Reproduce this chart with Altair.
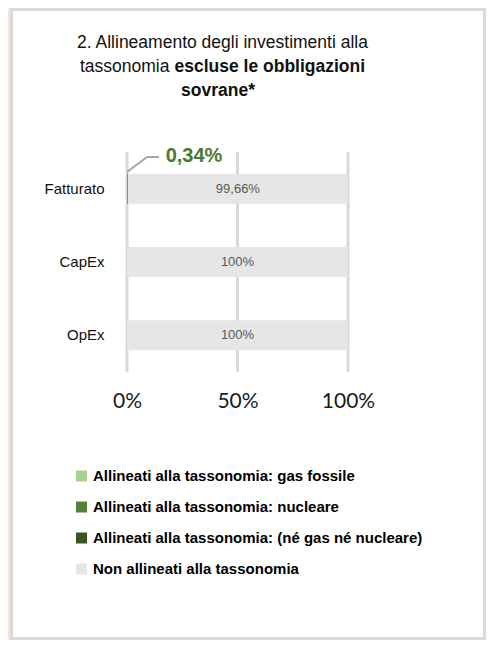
import altair as alt
import pandas as pd

# ---- data ----
categorie = ["Fatturato", "CapEx", "OpEx"]
serie = [
    "Allineati alla tassonomia: gas fossile",
    "Allineati alla tassonomia: nucleare",
    "Allineati alla tassonomia: (né gas né nucleare)",
    "Non allineati alla tassonomia",
]
gas_fossile = [0.0, 0.0, 0.0]
nucleare = [0.0, 0.0, 0.0]
ne_gas_ne_nucleare = [0.34, 0.0, 0.0]
non_allineati = [99.66, 100.0, 100.0]
colori = ["#a9d18e", "#548235", "#385723", "#e7e6e6"]
x_ticks = [0, 50, 100]

titolo_1 = "2. Allineamento degli investimenti alla"
titolo_2a = "tassonomia"
titolo_2b = "escluse le obbligazioni"
titolo_3 = "sovrane*"


def fmt(v):
    if float(v).is_integer():
        return f"{int(v)}%"
    return f"{v:.2f}".replace(".", ",") + "%"


rows = []
for i, c in enumerate(categorie):
    vals = [gas_fossile[i], nucleare[i], ne_gas_ne_nucleare[i], non_allineati[i]]
    for k, s in enumerate(serie):
        rows.append({"categoria": c, "serie": s, "valore": vals[k], "ordine": k})
df = pd.DataFrame(rows)

lab = pd.DataFrame({
    "categoria": categorie,
    "mid": [gas_fossile[i] + nucleare[i] + ne_gas_ne_nucleare[i] + non_allineati[i] / 2 for i in range(3)],
    "testo": [fmt(v) for v in non_allineati],
    "verde": [fmt(v) for v in ne_gas_ne_nucleare],
})
ticks_df = pd.DataFrame({"t": x_ticks})

W, H = 221, 220
PL, PT = 119, 144
TOT_W, TOT_H = 478, 632

FONT = "Liberation Sans, Arial, sans-serif"

xscale = alt.Scale(domain=[0, 100], nice=False, zero=True)
yscale = alt.Scale(domain=categorie, paddingInner=0.59, paddingOuter=0.295)

one = pd.DataFrame({"k": [0]})

panel = alt.Chart(one).mark_rect(
    fill="white", stroke="#d9d9d9", strokeWidth=3, clip=False
).encode(
    x=alt.value(-PL + 3.5), x2=alt.value(TOT_W - PL - 1.5),
    y=alt.value(-PT + 1.5), y2=alt.value(TOT_H - PT - 1.5),
)

grid = alt.Chart(ticks_df).mark_rule(color="#d9d9d9", strokeWidth=3).encode(
    x=alt.X("t:Q", scale=xscale),
    y=alt.value(0), y2=alt.value(H),
)

bars = alt.Chart(df).mark_bar().encode(
    x=alt.X("valore:Q", stack="zero", scale=xscale,
            axis=alt.Axis(values=x_ticks, labelExpr="datum.value + '%'", title=None,
                          grid=False, domain=False, ticks=False, tickSize=0,
                          labelFont="Lato", labelFontSize=21, labelColor="#1a1a1a",
                          labelBaseline="alphabetic", labelPadding=35, labelFlush=False,
                          labelFontWeight="normal", zindex=1)),
    y=alt.Y("categoria:N", scale=yscale,
            axis=alt.Axis(title=None, domain=False, ticks=False, tickSize=0, grid=False,
                          labelFont=FONT, labelFontSize=15, labelColor="#111111",
                          labelPadding=23, zindex=1)),
    color=alt.Color("serie:N", scale=alt.Scale(domain=serie, range=colori),
                    legend=alt.Legend(title=None, orient="none", legendX=-53, legendY=316.5,
                                      symbolType="square", symbolSize=121, symbolStrokeWidth=0,
                                      labelFont=FONT, labelFontSize=15, labelFontWeight="bold",
                                      labelColor="#000000", labelLimit=500, rowPadding=15,
                                      labelOffset=4, padding=0, direction="vertical",
                                      zindex=1)),
    order=alt.Order("ordine:Q"),
)

bar_text = alt.Chart(lab).mark_text(
    font=FONT, fontSize=13, color="#595959", baseline="middle", align="center"
).encode(
    x=alt.X("mid:Q", scale=xscale),
    y=alt.Y("categoria:N", scale=yscale),
    text="testo:N",
)

ann = alt.Chart(lab).transform_filter(
    alt.datum.categoria == categorie[0]
).mark_text(
    font=FONT, fontSize=20, fontWeight="bold", color="#4a7a2e", align="center",
    baseline="alphabetic"
).encode(x=alt.value(67), y=alt.value(10), text="verde:N")

lead1 = alt.Chart(one).mark_rule(color="#a6a6a6", strokeWidth=2).encode(
    x=alt.value(0), x2=alt.value(20), y=alt.value(20), y2=alt.value(5))
lead2 = alt.Chart(one).mark_rule(color="#a6a6a6", strokeWidth=2).encode(
    x=alt.value(20), x2=alt.value(32), y=alt.value(5), y2=alt.value(5))

tsize = 17.5
t1 = alt.Chart(one).mark_text(font=FONT, fontSize=tsize, color="#111111", align="center",
                              baseline="alphabetic", text=titolo_1).encode(
    x=alt.value(95.5), y=alt.value(-104))
t2a = alt.Chart(one).mark_text(font=FONT, fontSize=tsize, color="#111111", align="right",
                               baseline="alphabetic", text=titolo_2a).encode(
    x=alt.value(42.5), y=alt.value(-80))
t2b = alt.Chart(one).mark_text(font=FONT, fontSize=tsize, fontWeight="bold", color="#111111",
                               align="left", baseline="alphabetic", text=titolo_2b).encode(
    x=alt.value(47.5), y=alt.value(-80))
t3 = alt.Chart(one).mark_text(font=FONT, fontSize=tsize, fontWeight="bold", color="#111111",
                              align="center", baseline="alphabetic", text=titolo_3).encode(
    x=alt.value(91), y=alt.value(-56))

chart = alt.layer(panel, grid, bars, bar_text, ann, lead1, lead2, t1, t2a, t2b, t3).properties(
    width=W, height=H,
    autosize=alt.AutoSizeParams(type="none"),
    padding={"left": PL, "top": PT, "right": TOT_W - PL - W, "bottom": TOT_H - PT - H},
    background="#fbe5d6",
).configure_view(stroke=None)

chart.save("out.html", embed_options={"renderer": "svg", "actions": False})
